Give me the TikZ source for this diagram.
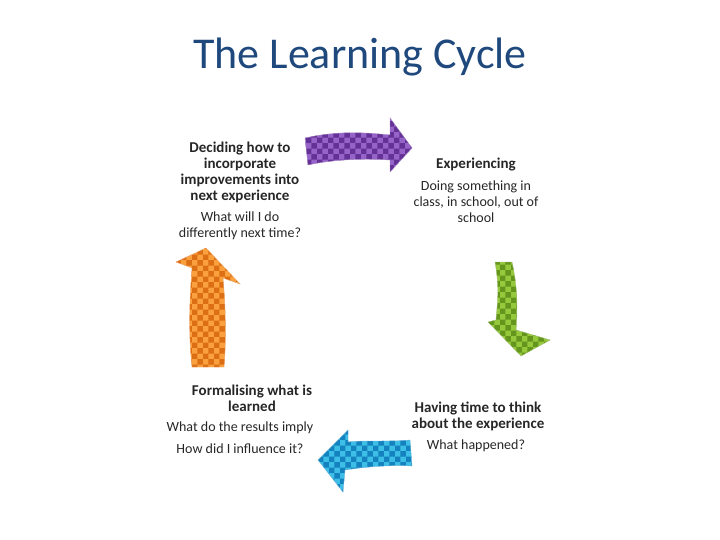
\documentclass[tikz,border=0pt]{standalone}
\usepackage{fontspec}
\setmainfont{Carlito}
\usetikzlibrary{patterns}
\definecolor{titleblue}{RGB}{31,73,125}
\definecolor{purp}{RGB}{150,100,200}
\definecolor{purpd}{RGB}{100,50,150}
\definecolor{grn}{RGB}{150,200,60}
\definecolor{grnd}{RGB}{100,150,30}
\definecolor{blu}{RGB}{60,190,230}
\definecolor{blud}{RGB}{20,130,190}
\definecolor{org}{RGB}{250,160,60}
\definecolor{orgd}{RGB}{220,110,20}
\tikzset{
  lbl/.style={align=center,font=\fontsize{14}{16}\selectfont,text=black!85},
  hd/.style={lbl,font=\fontsize{15}{16}\selectfont\bfseries},
}
\begin{document}
\begin{tikzpicture}[x=1pt,y=-1pt]
\useasboundingbox (0,0) rectangle (720,540);
\node[font=\fontsize{44}{46}\selectfont,text=titleblue] (title) at (360,57) {The Learning Cycle};
% purple
\def\pp{(305,138) .. controls (340,130) and (370,133) .. (390,135) -- (390,118) -- (412,148) -- (390,172) -- (390,160) .. controls (360,158) and (330,160) .. (308,165) -- cycle}
\fill[purp] \pp; \fill[pattern=checkerboard,pattern color=purpd] \pp; \draw[purpd!60,thin] \pp;
% green
\def\pg{(495,262) .. controls (500,290) and (497,305) .. (496,320) -- (488,322) -- (521,356) -- (550,340) -- (516,330) .. controls (518,305) and (517,285) .. (512,262) -- cycle}
\fill[grn] \pg; \fill[pattern=checkerboard,pattern color=grnd] \pg; \draw[grnd!60,thin] \pg;
% blue
\def\pb{(410,440) .. controls (390,442) and (365,440) .. (348,442) -- (348,430) -- (318,460) -- (343,492) -- (345,470) .. controls (370,466) and (395,465) .. (412,466) -- cycle}
\fill[blu] \pb; \fill[pattern=checkerboard,pattern color=blud] \pb; \draw[blud!60,thin] \pb;
% orange
\def\po{(192,367) .. controls (188,330) and (190,295) .. (192,268) -- (176,262) -- (206,248) -- (240,284) -- (223,278) .. controls (226,310) and (226,345) .. (224,367) -- cycle}
\fill[org] \po; \fill[pattern=checkerboard,pattern color=orgd] \po; \draw[orgd!60,thin] \po;
% texts
\node[hd] (tl) at (240,172) {Deciding how to\\incorporate\\improvements into\\next experience};
\node[lbl] (tl2) at (240,226) {What will I do\\differently next time?};
\node[hd] (tr) at (476,165) {Experiencing};
\node[lbl] (tr2) at (476,202) {Doing something in\\class, in school, out of\\school};
\node[hd] (bl) at (252,398) {Formalising what is\\learned};
\node[lbl] (bl2) at (240,428) {What do the results imply};
\node[lbl] (bl3) at (240,449) {How did I influence it?};
\node[hd] (br) at (478,416) {Having time to think\\about the experience};
\node[lbl] (br2) at (476,446) {What happened?};
\end{tikzpicture}
\end{document}
